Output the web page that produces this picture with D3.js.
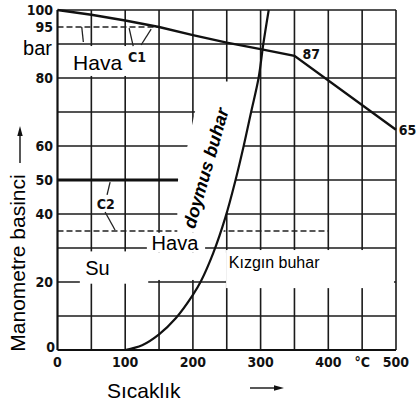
<!DOCTYPE html>
<html>
<head>
<meta charset="utf-8">
<script src="https://cdn.jsdelivr.net/npm/d3@7"></script>
<style>
body{margin:0;background:#fff;}
svg{display:block;}
.num{font-family:"Liberation Sans Narrow","DejaVu Sans Condensed",sans-serif;font-weight:bold;font-size:14px;fill:#111;}
.lbl{font-family:Arial,"Liberation Sans",sans-serif;fill:#000;}
</style>
</head>
<body>
<script>
// values (x: °C, y: bar)
var xTicks = [0,100,200,300,400,500];
var yTicks = [0,20,40,50,60,80,95,100];
var gridX = [50,100,150,200,250,300,350,400,450,500];
var gridY = [10,20,30,40,50,60,70,80,90,100];
var c1Line = [[0,100],[50,98.6],[100,96.9],[150,95],[200,92.6],[250,90.4],[300,88.5],[350,86.5],[500,64.8]];
var satCurve = [[100,0],[125,1.4],[150,4.6],[175,9.4],[200,16.2],[212,20.3],[230,28.5],[248,39],[263,50],[275,60],[286,70],[297,80],[304,90],[312,100]];
var dash95 = [[0,95],[148,95]];
var dash35 = [[0,35],[400,35]];
var heavy50 = [[0,50],[178,50]];
// white backgrounds behind labels, in data units
var boxes = [
  {x0:0.5,x1:103,y0:80.6,y1:89.4},
  {x0:132,x1:218,y0:28.6,y1:34.5},
  {x0:33,x1:134,y0:19.5,y1:29},
  {x0:134,x1:249,y0:20.6,y1:28.6},
  {x0:249,x1:497,y0:18.2,y1:29.4}
];
var maskShape = [[215,79],[203,70],[192,60],[178,50],[177,40],[177,34.5],[245,34.5],[248,39],[263,50],[275,60],[286,70],[296,79]];
var leaders = [
  [[111.8,89.4],[105.8,94.7]],
  [[123.5,89.7],[138.3,94.4]],
  [[35.8,95],[38.2,90.6]],
  [[73.2,45.6],[77.7,49.4]],
  [[70.3,40.6],[85,35.3]]
];

var width = 416, height = 409;
var svg = d3.select("body").append("svg")
    .attr("width", width)
    .attr("height", height);

var x = d3.scaleLinear().domain([0,500]).range([57.5,396]);
var y = d3.scaleLinear().domain([0,100]).range([350,10]);
var line = d3.line().x(function(d){return x(d[0]);}).y(function(d){return y(d[1]);});
var smooth = d3.line().x(function(d){return x(d[0]);}).y(function(d){return y(d[1]);})
    .curve(d3.curveCatmullRom.alpha(0.5));

// grid
svg.selectAll(".gx").data(gridX).enter().append("line")
    .attr("x1", function(d){return x(d);}).attr("x2", function(d){return x(d);})
    .attr("y1", y(0)).attr("y2", y(100))
    .attr("stroke", "#1b1b1b").attr("stroke-width", 1.6);
svg.selectAll(".gy").data(gridY).enter().append("line")
    .attr("x1", x(0)).attr("x2", x(500))
    .attr("y1", function(d){return y(d);}).attr("y2", function(d){return y(d);})
    .attr("stroke", "#1b1b1b").attr("stroke-width", 1.6);

svg.append("path").attr("d", line(heavy50)).attr("stroke", "#111").attr("stroke-width", 3).attr("fill", "none");
svg.selectAll(".dash").data([dash95, dash35]).enter().append("path")
    .attr("d", line).attr("fill", "none")
    .attr("stroke", "#222").attr("stroke-width", 1.6).attr("stroke-dasharray", "6,3");

// label backgrounds
svg.selectAll(".box").data(boxes).enter().append("rect")
    .attr("x", function(d){return x(d.x0);})
    .attr("y", function(d){return y(d.y1);})
    .attr("width", function(d){return x(d.x1)-x(d.x0);})
    .attr("height", function(d){return y(d.y0)-y(d.y1);})
    .attr("fill", "#fff");
svg.append("path").attr("d", line(maskShape) + "Z").attr("fill", "#fff");

// axes
svg.append("line").attr("x1", x(0)).attr("x2", x(0)).attr("y1", y(0)).attr("y2", y(100))
    .attr("stroke", "#111").attr("stroke-width", 2.2);
svg.append("line").attr("x1", x(0)).attr("x2", x(500)).attr("y1", y(0)).attr("y2", y(0))
    .attr("stroke", "#111").attr("stroke-width", 2.2);

// curves
svg.append("path").attr("d", line(c1Line)).attr("fill", "none")
    .attr("stroke", "#111").attr("stroke-width", 2.4);
svg.append("path").attr("d", smooth(satCurve)).attr("fill", "none")
    .attr("stroke", "#111").attr("stroke-width", 2.2);

svg.selectAll(".lead").data(leaders).enter().append("path")
    .attr("d", line).attr("fill", "none")
    .attr("stroke", "#222").attr("stroke-width", 1.3);

// tick labels
svg.selectAll(".yt").data(yTicks).enter().append("text")
    .attr("class", "num")
    .attr("x", function(d){return d==0 ? 55 : 53;})
    .attr("y", function(d){return d==0 ? y(d)-3 : y(d);})
    .attr("dy", "0.36em")
    .attr("text-anchor", "end")
    .text(function(d){return d;});
svg.selectAll(".xt").data(xTicks).enter().append("text")
    .attr("class", "num")
    .attr("x", function(d){return x(d);})
    .attr("y", 367)
    .attr("text-anchor", "middle")
    .text(function(d){return d;});
svg.append("text").attr("class", "num").attr("x", x(450)).attr("y", 367)
    .attr("text-anchor", "middle").text("°C");

svg.append("text").attr("class", "num").attr("x", x(362)).attr("y", y(87)+5).text("87");
svg.append("text").attr("class", "num").attr("x", x(504)).attr("y", y(65)+6).text("65");
svg.append("text").attr("class", "num").attr("x", x(104)).attr("y", y(85)+1).text("C1");
svg.append("text").attr("class", "num").attr("x", x(58)).attr("y", y(41.5)).text("C2");

svg.append("text").attr("class", "lbl").attr("x", 52).attr("y", 55)
    .attr("text-anchor", "end").style("font-size", "20px").text("bar");
svg.append("text").attr("class", "lbl").attr("x", x(23)).attr("y", y(82.5))
    .style("font-size", "21px").text("Hava");
svg.append("text").attr("class", "lbl").attr("x", x(139)).attr("y", y(29.5))
    .style("font-size", "20px").text("Hava");
svg.append("text").attr("class", "lbl").attr("x", x(41)).attr("y", y(22.2))
    .style("font-size", "20px").text("Su");
svg.append("text").attr("class", "lbl").attr("x", x(253)).attr("y", y(24.2))
    .style("font-size", "16px").text("Kızgın buhar");

svg.append("text").attr("class", "lbl")
    .attr("transform", "translate(" + x(228) + "," + y(53) + ") rotate(-74)")
    .attr("text-anchor", "middle")
    .style("font-size", "18px").style("font-weight", "bold").style("font-style", "italic")
    .text("doymus buhar");

// axis titles with arrows
svg.append("text").attr("class", "lbl")
    .attr("transform", "translate(25,263) rotate(-90)")
    .attr("text-anchor", "middle").style("font-size", "21px")
    .text("Manometre basinci");
svg.append("text").attr("class", "lbl").attr("x", 107).attr("y", 398)
    .style("font-size", "21px").text("Sıcaklık");

svg.append("line").attr("x1", 20).attr("x2", 20).attr("y1", 163).attr("y2", 134)
    .attr("stroke", "#111").attr("stroke-width", 1.4);
svg.append("path").attr("d", "M20,126 L17.3,136 L22.7,136 Z").attr("fill", "#111");
svg.append("line").attr("x1", 250).attr("x2", 276).attr("y1", 388).attr("y2", 388)
    .attr("stroke", "#111").attr("stroke-width", 1.4);
svg.append("path").attr("d", "M284,388 L274,385.3 L274,390.7 Z").attr("fill", "#111");
</script>
</body>
</html>
